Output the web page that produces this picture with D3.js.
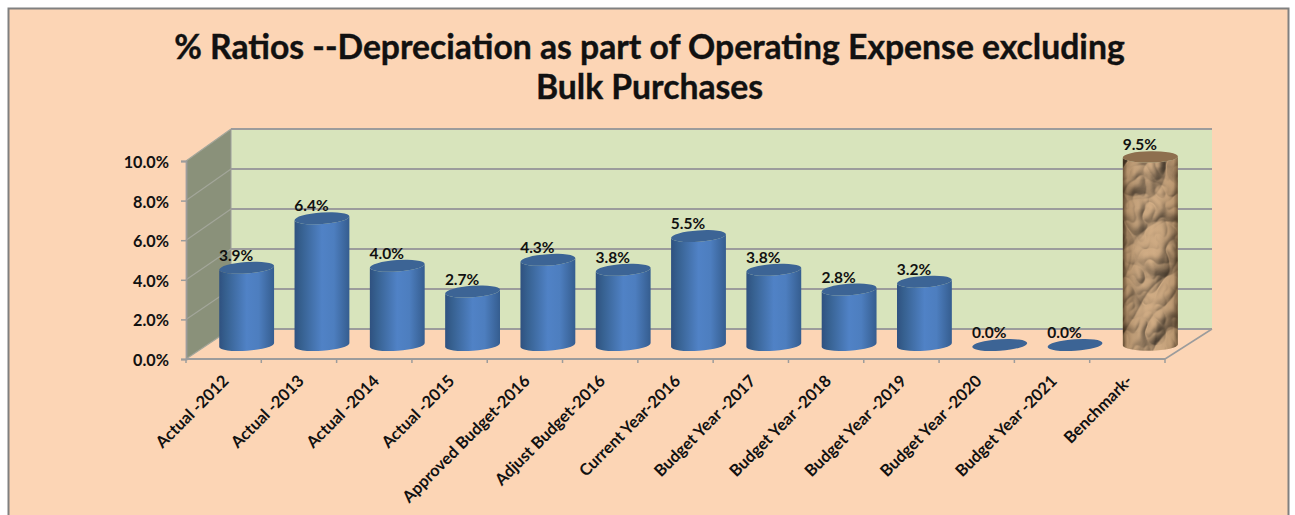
<!DOCTYPE html>
<html><head><meta charset="utf-8">
<style>html,body{margin:0;padding:0;background:#fff;overflow:hidden}svg{display:block}</style>
<script src="https://cdn.jsdelivr.net/npm/d3@7"></script>
</head><body><svg id="c" width="1295" height="515"></svg>
<script>
const categories=["Actual -2012","Actual -2013","Actual -2014","Actual -2015","Approved Budget-2016","Adjust Budget-2016","Current Year-2016","Budget Year -2017","Budget Year -2018","Budget Year -2019","Budget Year -2020","Budget Year -2021","Benchmark-"];
const values=[3.9,6.4,4.0,2.7,4.3,3.8,5.5,3.8,2.8,3.2,0.0,0.0,9.5];
const labels=["3.9%","6.4%","4.0%","2.7%","4.3%","3.8%","5.5%","3.8%","2.8%","3.2%","0.0%","0.0%","9.5%"];
const yTicks=[0,2,4,6,8,10];
const titleLines=["% Ratios --Depreciation as part of Operating Expense excluding","Bulk Purchases"];
const FONT="Lato, 'Open Sans', sans-serif";
const GRID="#9c9c9c";
const svg=d3.select("#c");
svg.append("rect").attr("x",8.5).attr("y",8.5).attr("width",1280).attr("height",520).attr("fill","#fcd5b5").attr("stroke","#808080").attr("stroke-width",2);

const x=d3.scaleBand().domain(categories).range([186,1165]).paddingInner(0.27).paddingOuter(0.135);
const y=d3.scaleLinear().domain([0,10]).range([359,161]);
const DX=46,DY=-30;
const defs=svg.append("defs");
const blue=defs.append("linearGradient").attr("id","blue");
[[0,"#2f5180"],[.12,"#36608f"],[.5,"#5082c6"],[.72,"#4d7ebf"],[1,"#355d8f"]].forEach(s=>blue.append("stop").attr("offset",s[0]).attr("stop-color",s[1]));
const shade=defs.append("linearGradient").attr("id","shade");
[[0,"#2a1a08",.6],[.08,"#2a1a08",.15],[.5,"#fff",.04],[.92,"#2a1a08",.12],[1,"#2a1a08",.5]].forEach(s=>shade.append("stop").attr("offset",s[0]).attr("stop-color",s[1]).attr("stop-opacity",s[2]));
const paper=defs.append("filter").attr("id","paper").attr("x",0).attr("y",0).attr("width","100%").attr("height","100%").attr("color-interpolation-filters","sRGB");
paper.append("feTurbulence").attr("type","turbulence").attr("baseFrequency","0.024 0.018").attr("numOctaves",3).attr("seed",5).attr("result","n");
const lit=paper.append("feDiffuseLighting").attr("in","n").attr("surfaceScale",7).attr("diffuseConstant",1.0).attr("lighting-color","#cfa97f").attr("result","l");
lit.append("feDistantLight").attr("azimuth",235).attr("elevation",62);
paper.append("feComposite").attr("in","l").attr("in2","SourceAlpha").attr("operator","in");

const xL=x.range()[0],xR=x.range()[1];
svg.append("polygon").attr("points",[[xL,y(0)],[xL,y(10)],[xL+DX-1,y(10)+DY-2],[xL+DX-1,y(0)+DY]].join(" ")).attr("fill","#8a917a");
svg.append("rect").attr("x",xL+DX-1).attr("y",y(10)+DY-2).attr("width",xR+DX-(xL+DX-1)+1).attr("height",y(0)-y(10)+2).attr("fill","#d8e4bc");
const backY=t=>329-t*20;
svg.selectAll("line.side").data(yTicks).join("line").attr("x1",xL).attr("y1",d=>y(d)).attr("x2",xL+DX-1).attr("y2",d=>backY(d)).attr("stroke","#a3a69a").attr("stroke-width",1.2);
svg.selectAll("line.back").data(yTicks).join("line").attr("x1",xL+DX-1).attr("y1",d=>backY(d)).attr("x2",xR+DX+1).attr("y2",d=>backY(d)).attr("stroke",GRID).attr("stroke-width",1.8);
svg.append("line").attr("x1",xR).attr("y1",y(0)).attr("x2",xR+DX+1).attr("y2",backY(0)).attr("stroke",GRID).attr("stroke-width",1.5);
svg.append("line").attr("x1",xL+DX-1).attr("y1",backY(10)).attr("x2",xL+DX-1).attr("y2",backY(0)).attr("stroke",GRID).attr("stroke-width",1);
const yAxis=d3.axisLeft(y).tickValues(yTicks).tickFormat(d=>d.toFixed(1)+"%").tickSize(5).tickPadding(12);
const gy=svg.append("g").attr("transform",`translate(${xL},0)`).call(yAxis);
gy.select(".domain").attr("stroke",GRID).attr("stroke-width",1.8);
gy.selectAll("line").attr("stroke",GRID).attr("stroke-width",1.5);
gy.selectAll("text").attr("dy","0.4em").attr("font-family",FONT).attr("font-weight",700).attr("font-size",16.2).attr("fill","#111");
svg.append("line").attr("x1",xL).attr("y1",y(0)).attr("x2",xR).attr("y2",y(0)).attr("stroke",GRID).attr("stroke-width",1.8);
const step=x.step();
svg.selectAll("line.xt").data(d3.range(categories.length+1)).join("line")
  .attr("x1",i=>xL+i*step).attr("x2",i=>xL+i*step).attr("y1",y(0)).attr("y2",y(0)+4).attr("stroke",GRID).attr("stroke-width",1.5);
svg.selectAll("text.xl").data(categories).join("text").attr("class","xl")
  .attr("transform",d=>`translate(${x(d)+x.bandwidth()/2+6},${y(0)+23}) rotate(-45)`)
  .attr("text-anchor","end").attr("font-family",FONT).attr("font-weight",700).attr("font-size",16.4).attr("fill","#111").text(d=>d);

const tilt=4, rx=x.bandwidth()/2, ry=5.7;
const OX=23, OY=-14;
function geom(d,i){
  const cx=x(d)+x.bandwidth()/2+OX, b=y(0)+OY, t=y(values[i])+OY;
  return {cx,b,t};
}
function body(g,tl){
  const s2=rx*Math.sin(tl*Math.PI/180), s1=rx*(1-Math.cos(tl*Math.PI/180));
  const x0=g.cx-rx+s1,x1=g.cx+rx-s1;
  return `M${x0},${g.t+s2}L${x0},${g.b+s2}A${rx},${ry} ${-tl} 0 0 ${x1},${g.b-s2}L${x1},${g.t-s2}A${rx},${ry} ${-tl} 0 1 ${x0},${g.t+s2}Z`;
}
const bars=svg.selectAll("g.bar").data(categories).join("g").attr("class","bar");
bars.each(function(d,i){
  const g=geom(d,i), s=d3.select(this), bench=d==="Benchmark-";
  if(bench){
    s.append("path").attr("d",body(g,1)).attr("fill","#000").attr("filter","url(#paper)");
    s.append("path").attr("d",body(g,1)).attr("fill","url(#shade)");
    s.append("ellipse").attr("cx",g.cx).attr("cy",g.t).attr("rx",rx).attr("ry",ry).attr("transform",`rotate(-1 ${g.cx} ${g.t})`).attr("fill","#8e6f4e");
  }else{
    if(values[i]>0) s.append("path").attr("d",body(g,tilt)).attr("fill","url(#blue)");
    s.append("ellipse").attr("cx",g.cx).attr("cy",g.t).attr("rx",rx).attr("ry",ry).attr("transform",`rotate(${-tilt} ${g.cx} ${g.t})`).attr("fill","#3c6495");
  }
  s.append("text").attr("x",g.cx-10.5).attr("y",g.t-7).attr("text-anchor","middle").attr("font-family",FONT).attr("font-weight",700).attr("font-size",15.5).attr("fill","#111").text(labels[i]);
});

svg.selectAll("text.title").data(titleLines).join("text").attr("class","title")
  .attr("x",649.5).attr("y",(d,i)=>59+i*40).attr("text-anchor","middle")
  .attr("font-family",FONT).attr("font-weight",700).attr("font-size",33.7).attr("stroke","#111").attr("stroke-width",0.4).attr("fill","#111").text(d=>d);
</script></body></html>
